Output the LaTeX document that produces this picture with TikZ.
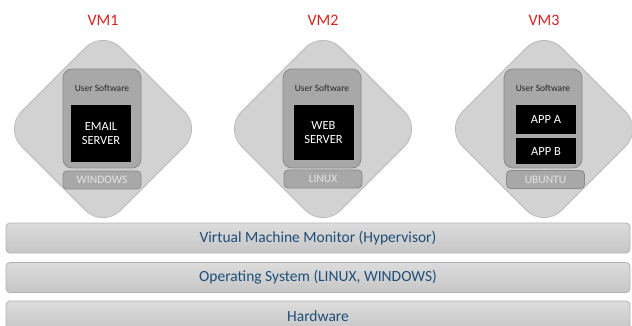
\documentclass[tikz,border=0pt]{standalone}
\usepackage{fontspec}
\setmainfont{Carlito}
\usepackage{xcolor}
\usepackage{tikz}
\usetikzlibrary{positioning}
\definecolor{vmred}{RGB}{217, 32, 30}
\definecolor{diamondgray}{RGB}{210, 210, 210}
\definecolor{diamondedge}{RGB}{188, 188, 188}
\definecolor{softgray}{RGB}{168, 168, 168}
\definecolor{softedge}{RGB}{138, 138, 138}
\definecolor{ostext}{RGB}{228, 228, 228}
\definecolor{bartop}{RGB}{220, 220, 220}
\definecolor{barbottom}{RGB}{198, 198, 198}
\definecolor{baredge}{RGB}{178, 178, 178}
\definecolor{bartext}{RGB}{31, 78, 121}

\tikzset{
  vmlabel/.style={text=vmred, font=\fontsize{16}{18}\selectfont},
  vmdiamond/.style={draw=diamondedge, line width=0.8pt, fill=diamondgray,
    rotate=45, minimum width=140pt, minimum height=140pt, inner sep=0pt,
    rounded corners=25pt},
  softbox/.style={draw=softedge, line width=0.8pt, fill=softgray,
    rounded corners=9pt, minimum width=78pt, minimum height=99pt, inner sep=0pt},
  softlabel/.style={font=\fontsize{9.5}{11}\selectfont, text=black!85},
  appbox/.style={fill=black, text=white, minimum width=60pt, inner sep=0pt,
    align=center, font=\fontsize{12.5}{14}\selectfont},
  osbox/.style={draw=softedge, line width=0.8pt, fill=softgray, text=ostext,
    rounded corners=4pt, minimum width=78pt, minimum height=18pt, inner sep=0pt,
    font=\fontsize{11.5}{13}\selectfont},
  layer/.style={draw=baredge, line width=0.8pt, top color=bartop,
    bottom color=barbottom, rounded corners=4pt, minimum width=624pt,
    minimum height=30pt, inner sep=0pt, text=bartext,
    font=\fontsize{15.5}{17}\selectfont}
}

\begin{document}
\begin{tikzpicture}[x=1pt, y=-1pt]
  \useasboundingbox (0,0) rectangle (632,326);
  \clip (0,0) rectangle (632,326);

  % the three virtual machines
  \foreach \n/\cx in {1/103, 2/323, 3/544} {
    \node[vmlabel] (vm\n) at (\cx,20) {VM\n};
    \node[vmdiamond] (vmbox\n) at (\cx,129) {};
    \node[softbox] (soft\n) at (\cx-1,118.5) {};
    \node[softlabel] (softlbl\n) at (\cx-1,88.5) {User Software};
  }

  % applications
  \node[appbox, minimum height=57pt] (app1) at (101,133.5) {EMAIL\\SERVER};
  \node[appbox, minimum height=55pt] (app2) at (323.5,132.5) {WEB\\SERVER};
  \node[appbox, minimum height=29pt] (app3a) at (546,119.5) {APP A};
  \node[appbox, minimum height=26pt] (app3b) at (546,151) {APP B};

  % guest operating systems
  \node[osbox] (os1) at (102,180) {WINDOWS};
  \node[osbox] (os2) at (323,179) {LINUX};
  \node[osbox] (os3) at (545.5,179.5) {UBUNTU};

  % host layers
  \node[layer] (hyper) at (318,238) {Virtual Machine Monitor (Hypervisor)};
  \node[layer] (hostos) at (318,277.5) {Operating System (LINUX, WINDOWS)};
  \node[layer] (hw) at (318,316) {Hardware};
\end{tikzpicture}
\end{document}
